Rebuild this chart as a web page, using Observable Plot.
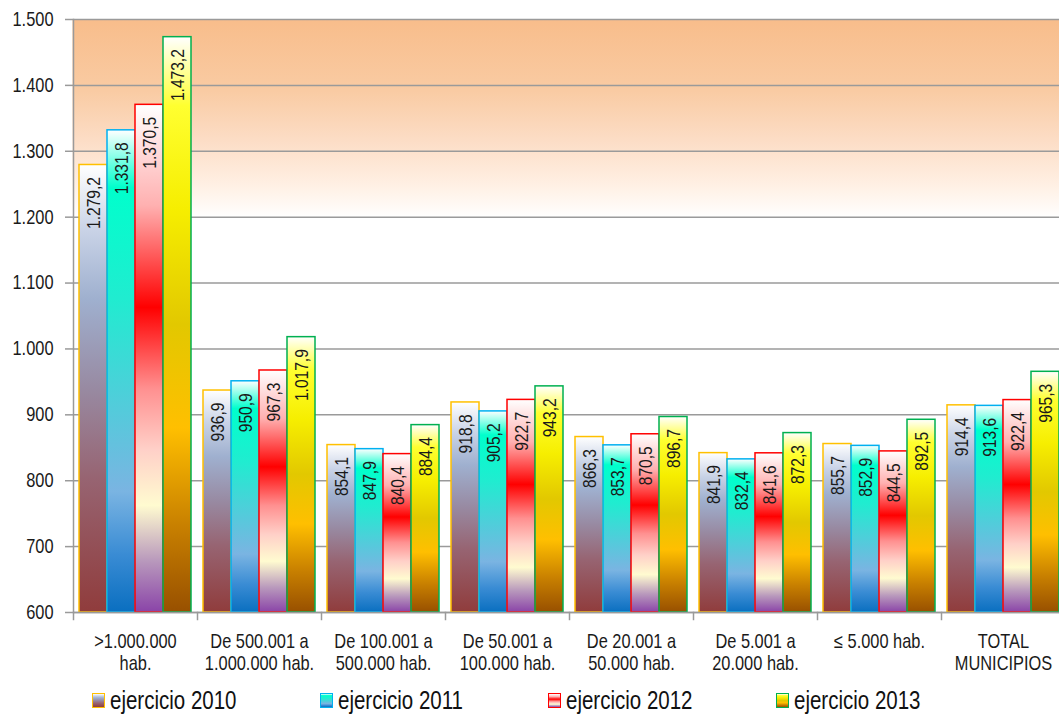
<!DOCTYPE html>
<html>
<head>
<meta charset="utf-8">
<script src="https://cdn.jsdelivr.net/npm/d3@7"></script>
<script src="https://cdn.jsdelivr.net/npm/@observablehq/plot@0.6"></script>
<style>
  html, body { margin: 0; padding: 0; background: #fff; overflow: hidden; }
  #chart svg { display: block; max-width: none !important; }
  .legend { display: flex; margin-top: 6px; padding-left: 92px; font-family: 'Liberation Sans', Arial, sans-serif; font-size: 25px; color: #111; line-height: 28px; }
  .legend .item { width: 228px; display: flex; align-items: center; white-space: nowrap; }
  .legend .sw { width: 11px; height: 13px; border: 1.5px solid; margin-right: 5px; flex: none; }
  .legend .lab { display: inline-block; transform: scaleX(0.82); transform-origin: left center; }
</style>
</head>
<body>
<div id="chart"></div>
<div class="legend" id="legend"></div>
<script>
// ---- data ----
const categories = [
  ">1.000.000\nhab.",
  "De 500.001 a\n1.000.000 hab.",
  "De 100.001 a\n500.000 hab.",
  "De 50.001 a\n100.000 hab.",
  "De 20.001 a\n50.000 hab.",
  "De 5.001 a\n20.000 hab.",
  "≤ 5.000 hab.",
  "TOTAL\nMUNICIPIOS"
];
const series = ["ejercicio 2010", "ejercicio 2011", "ejercicio 2012", "ejercicio 2013"];
const v2010 = [1279.2, 936.9, 854.1, 918.8, 866.3, 841.9, 855.7, 914.4];
const v2011 = [1331.8, 950.9, 847.9, 905.2, 853.7, 832.4, 852.9, 913.6];
const v2012 = [1370.5, 967.3, 840.4, 922.7, 870.5, 841.6, 844.5, 922.4];
const v2013 = [1473.2, 1017.9, 884.4, 943.2, 896.7, 872.3, 892.5, 965.3];
const yTicks = [600, 700, 800, 900, 1000, 1100, 1200, 1300, 1400, 1500];

// ---- styles ----
const strokes = ["#ffc000", "#00b0f0", "#ff0000", "#00b050"];
const gradStops = [
  [[0, "#ffffff"], [0.15, "#c8d2e6"], [0.3, "#9fb0cf"], [0.5, "#988aa2"], [0.7, "#976472"], [1, "#903c3c"]],
  [[0, "#ffffff"], [0.12, "#00ffcc"], [0.35, "#20ecd0"], [0.6, "#58c8dc"], [0.75, "#7ab4e2"], [0.88, "#3a8cd4"], [1, "#0a6fc0"]],
  [[0, "#ffffff"], [0.2, "#ffb0b0"], [0.4, "#ff0000"], [0.56, "#ff9090"], [0.68, "#ffd0c8"], [0.79, "#fffbd0"], [0.9, "#b898bc"], [1, "#8a44a8"]],
  [[0, "#ffffff"], [0.12, "#ffff30"], [0.3, "#f6ee00"], [0.5, "#e2c800"], [0.68, "#ffbf00"], [0.85, "#c88000"], [1, "#985000"]]
];
const bgStops = [[0, "#f8bd8b"], [0.12, "#f9cba3"], [0.2, "#fcdcc4"], [0.28, "#fff0e4"], [0.335, "#ffffff"], [1, "#ffffff"]];

const data = [];
const vals = [v2010, v2011, v2012, v2013];
categories.forEach((c, ci) => series.forEach((s, si) => data.push({cat: c, series: s, value: vals[si][ci]})));

const locale = d3.formatLocale({decimal: ",", thousands: ".", grouping: [3], currency: ["", "€"]});
const fmtVal = locale.format(",.1f");
const fmtTick = locale.format(",d");

const W = 1066, H = 680, mT = 19, mB = 68, mL = 72;
const plotH = H - mT - mB;
const FONT = "'Liberation Sans', Arial, sans-serif";
const NARROW = 0.82;

const chart = Plot.plot({
  width: W, height: H,
  marginTop: mT, marginBottom: mB, marginLeft: mL, marginRight: 0,
  style: {fontFamily: FONT, color: "#1a1a1a", background: "white", overflow: "visible"},
  fx: {domain: categories, padding: 0},
  x: {domain: series, paddingInner: 0, paddingOuter: 0.21, axis: null},
  y: {domain: [yTicks[0], yTicks[yTicks.length - 1]]},
  marks: [
    Plot.frame({fill: "url(#bgGrad)", stroke: "none", insetLeft: -1, insetRight: -1}),
    Plot.gridY(yTicks, {stroke: "#9a9a9a", strokeOpacity: 1, strokeWidth: 1.5}),
    ...series.map((s, si) => Plot.barY(data.filter(d => d.series === s), {
      fx: "cat", x: "series", y1: yTicks[0], y2: "value",
      fill: `url(#grad${si})`, stroke: strokes[si], strokeWidth: 1.5
    })),
    Plot.text(data, {
      fx: "cat", x: "series", y: "value", text: d => fmtVal(d.value),
      rotate: -90, textAnchor: "end", dy: 12, fontSize: 19, fill: "#1a1a1a"
    }),
    Plot.ruleY([yTicks[0]], {stroke: "#9a9a9a", strokeWidth: 1.5}),
    Plot.frame({anchor: "left", stroke: "#9a9a9a", strokeWidth: 1.5, insetTop: plotH, insetBottom: -7}),
    Plot.frame({anchor: "left", stroke: "#9a9a9a", strokeWidth: 1.5, facetAnchor: "left"}),
    Plot.axisY({ticks: yTicks, tickFormat: d => fmtTick(d), tickSize: 8, tickPadding: 12, fontSize: 20, label: null, stroke: "#9a9a9a", strokeWidth: 1.5, fill: "#1a1a1a"}),
    Plot.axisFx({anchor: "bottom", tickSize: 0, tickPadding: 20, fontSize: 20, lineHeight: 1.1, label: null, fill: "#1a1a1a"})
  ]
});

// narrow the glyphs (Arial Narrow look) along each text's reading direction
d3.select(chart).selectAll("text").each(function () {
  const t = this.getAttribute("transform") || "";
  this.setAttribute("transform", (t + ` scale(${NARROW},1)`).trim());
});

// gradient definitions
const defs = d3.select(chart).insert("defs", ":first-child");
function addGrad(id, stops) {
  const lg = defs.append("linearGradient").attr("id", id).attr("x1", 0).attr("y1", 0).attr("x2", 0).attr("y2", 1);
  stops.forEach(([o, c]) => lg.append("stop").attr("offset", o).attr("stop-color", c));
}
gradStops.forEach((st, i) => addGrad("grad" + i, st));
addGrad("bgGrad", bgStops);

document.getElementById("chart").append(chart);

// legend
const legend = document.getElementById("legend");
series.forEach((s, i) => {
  const item = document.createElement("div");
  item.className = "item";
  const sw = document.createElement("span");
  sw.className = "sw";
  sw.style.borderColor = strokes[i];
  sw.style.background = "linear-gradient(to bottom, " + gradStops[i].map(([o, c]) => `${c} ${o * 100}%`).join(", ") + ")";
  const lab = document.createElement("span");
  lab.className = "lab";
  lab.textContent = s;
  item.append(sw, lab);
  legend.append(item);
});
</script>
</body>
</html>
